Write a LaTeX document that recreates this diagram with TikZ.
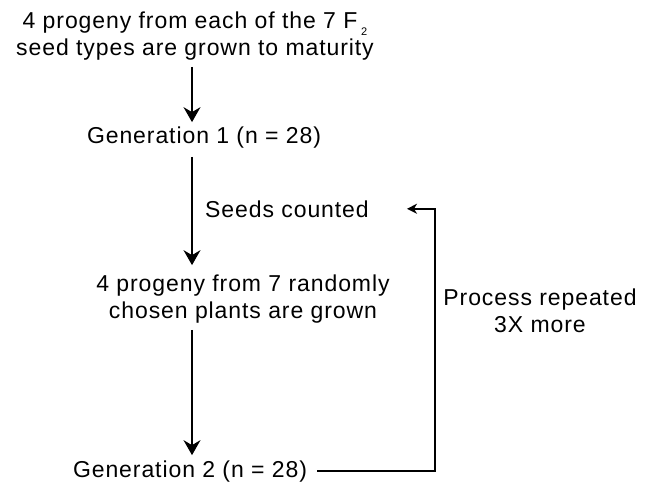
\documentclass[tikz,border=0pt]{standalone}
\usepackage{fontspec}
\setmainfont[LetterSpace=4]{Liberation Sans}
\usetikzlibrary{arrows.meta}
\tikzset{txt/.style={inner sep=0pt, font=\fontsize{23}{27}\selectfont}}
\tikzset{flow/.style={line width=2pt, -{Stealth[length=15pt,width=17pt,inset=5pt]}}}
\tikzset{back/.style={line width=1.6pt, -{Stealth[length=10pt,width=10pt,inset=3pt]}}}
\newcommand{\subtwo}{\raisebox{-7pt}{\fontsize{11}{11}\selectfont 2}}

\begin{document}
\begin{tikzpicture}[x=1pt,y=-1pt]
  \useasboundingbox (0,0) rectangle (653,485);
  % Steps of the scheme
  \node[txt, align=center, anchor=base] (seeds) at (195,55)
    {4 progeny from each of the 7 F\,\subtwo\\seed types are grown to maturity};
  \node[txt, anchor=base] (gen1) at (204,143) {Generation 1 (n = 28)};
  \node[txt, anchor=base west] (counted) at (205,217) {Seeds counted};
  \node[txt, align=center, anchor=base] (progeny) at (243,318)
    {4 progeny from 7 randomly\\chosen plants are grown};
  \node[txt, anchor=base] (gen2) at (190,477) {Generation 2 (n = 28)};
  \node[txt, align=center, anchor=base] (repeat) at (540,332)
    {Process repeated\\3X more};
  % Arrows down the column
  \coordinate (col) at (192,0);
  \draw[flow, shorten <=7pt, shorten >=4pt] (seeds.south -| col) -- (gen1.north -| col);
  \draw[flow, shorten <=9pt, shorten >=9pt] (gen1.south -| col) -- (progeny.north -| col);
  \draw[flow, shorten <=7pt, shorten >=5pt] (progeny.south -| col) -- (gen2.north -| col);
  % Loop back
  \coordinate (turn) at (435,0);
  \draw[back] ([xshift=10pt]gen2.east) -| (turn |- counted.east)
    -- ([xshift=38pt]counted.east);
\end{tikzpicture}
\end{document}
